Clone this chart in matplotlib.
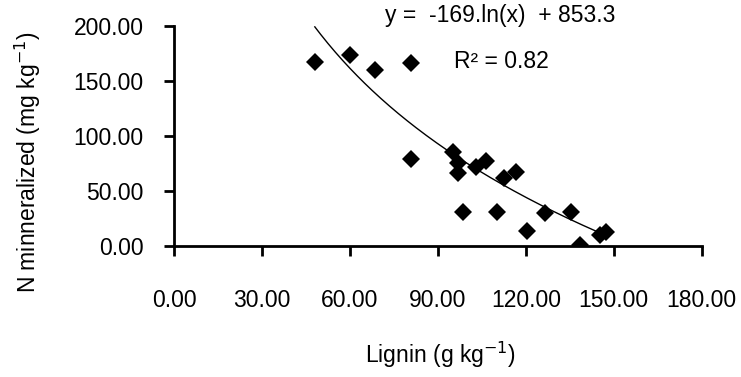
import matplotlib.pyplot as plt
import numpy as np

plt.rcParams['font.family'] = ['Liberation Sans', 'DejaVu Sans']

# lignin (g/kg) vs N mineralized (mg/kg)
lignin = [48.0, 59.9, 68.4, 80.7, 80.9, 95.3, 96.8, 96.8, 98.5, 103.1,
          106.3, 110.2, 112.7, 116.5, 120.3, 126.4, 135.5, 138.3, 145.4, 147.2]
n_min = [167.5, 173.6, 160.0, 166.6, 78.8, 85.7, 75.2, 66.1, 31.2, 72.1,
         77.6, 30.6, 61.5, 67.0, 13.6, 29.7, 31.2, 0.9, 10.0, 13.0]

# log fit from the figure
coef_a = -169.0
coef_b = 853.3
fit_x = np.linspace(48.0, 147.5, 200)
fit_y = coef_a * np.log(fit_x) + coef_b

xticks = [0, 30, 60, 90, 120, 150, 180]
yticks = [0, 50, 100, 150, 200]

fig = plt.figure(figsize=(7.41, 3.77), dpi=100)
ax = fig.add_axes([0.235, 0.3475, 0.712, 0.584])

ax.plot(fit_x, fit_y, color="black", lw=1.0)
ax.plot(lignin, n_min, "D", color="black", ms=9, mew=0)

ax.set_xlim(0, 180)
ax.set_ylim(0, 200)
ax.set_xticks(xticks)
ax.set_yticks(yticks)
ax.set_xticklabels([f"{v:.2f}" for v in xticks])
ax.set_yticklabels([f"{v:.2f}" for v in yticks])

for s in ["top", "right"]:
    ax.spines[s].set_visible(False)
for s in ["left", "bottom"]:
    ax.spines[s].set_linewidth(2)

ax.tick_params(axis="both", direction="out", length=7, width=2, labelsize=16.5)
ax.tick_params(axis="x", pad=24)
ax.tick_params(axis="y", pad=15)

fig.text(0.675, 0.958, "y =  -169.ln(x)  + 853.3", ha="center", va="center", fontsize=16.5)
fig.text(0.676, 0.836, "R² = 0.82", ha="center", va="center", fontsize=16.5)

fig.text(0.595, 0.058, "Lignin (g kg$^{-1}$)", ha="center", va="center", fontsize=16.5)
fig.text(0.037, 0.57, "N minneralized (mg kg$^{-1}$)", ha="center", va="center",
         rotation=90, fontsize=16.5)

plt.savefig("out.png", dpi=100)
